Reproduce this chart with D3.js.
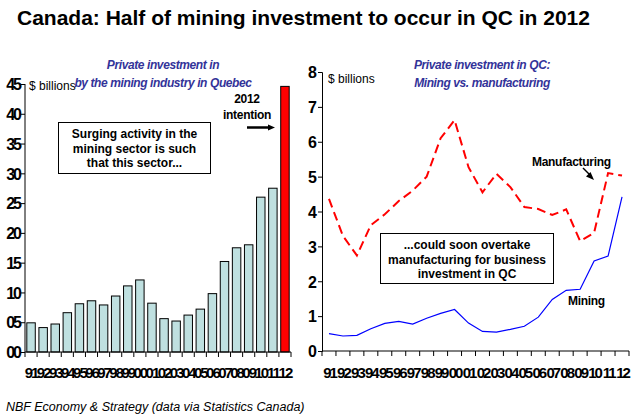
<!DOCTYPE html>
<html><head><meta charset="utf-8">
<script src="https://cdn.jsdelivr.net/npm/d3@7"></script>
<style>
html,body{margin:0;padding:0;background:#fff;}
svg{display:block;font-family:Arial,"Liberation Sans",sans-serif;}
</style></head>
<body>
<svg id="c" width="632" height="417"></svg>
<script>
// ---- data ----
const years = ["91","92","93","94","95","96","97","98","99","00","01","02","03","04","05","06","07","08","09","10","11","12"];
// left panel: private investment by the mining industry in Quebec (axis units as shown)
const miningBars = [4.9,4.1,4.7,6.6,8.1,8.6,7.9,9.4,11.1,12.1,8.2,5.6,5.2,6.2,7.2,9.8,15.2,17.5,18.0,26.0,27.5,44.6];
const leftTicks = [0,5,10,15,20,25,30,35,40,45];
const leftTickLabels = ["00","05","10","15","20","25","30","35","40","45"];
// right panel: $ billions
const miningQC = [0.50,0.43,0.45,0.64,0.79,0.85,0.77,0.94,1.08,1.19,0.80,0.56,0.54,0.62,0.71,0.97,1.48,1.74,1.77,2.58,2.72,4.42];
const manufQC = [4.36,3.3,2.74,3.61,3.92,4.3,4.6,5.0,6.1,6.62,5.27,4.55,5.08,4.7,4.13,4.07,3.9,4.06,3.15,3.39,5.1,5.03];
const rightTicks = [0,1,2,3,4,5,6,7,8];

const svg = d3.select("#c");
const navy = "#333399";

// titles
svg.append("text").attr("x",17).attr("y",25).attr("font-size","21px").attr("font-weight","bold").text("Canada: Half of mining investment to occur in QC in 2012");
const sub = [[163,69,"Private investment in"],[163,87,"by the mining industry in Quebec"],[482,69,"Private investment in QC:"],[482,87,"Mining vs. manufacturing"]];
sub.forEach(s=>svg.append("text").attr("x",s[0]).attr("y",s[1]).attr("text-anchor","middle")
  .attr("font-size","12px").attr("font-weight","bold").attr("font-style","italic").attr("letter-spacing","-0.4px").attr("fill",navy).text(s[2]));
svg.append("text").attr("x",6).attr("y",411).attr("font-size","12.5px").attr("font-style","italic").text("NBF Economy & Strategy (data via Statistics Canada)");

// ---- left panel ----
const xl = d3.scaleBand().domain(years).range([25,291]).paddingInner(0.3).paddingOuter(0.15);
const yl = d3.scaleLinear().domain([0,45]).range([352,84]);
const L = svg.append("g");
L.selectAll("rect.bar").data(years).join("rect")
  .attr("x",d=>xl(d)).attr("width",xl.bandwidth())
  .attr("y",(d,i)=>yl(miningBars[i])).attr("height",(d,i)=>yl(0)-yl(miningBars[i]))
  .attr("fill",(d,i)=>i===years.length-1?"#ff0000":"#bfe0e0").attr("stroke","#000").attr("stroke-width",1);
// y axis
const yAxL = L.append("g").attr("transform","translate(25,0)")
  .call(d3.axisLeft(yl).tickValues(leftTicks).tickFormat((d,i)=>leftTickLabels[i]).tickSize(4).tickPadding(1));
yAxL.select(".domain").attr("d",`M0,${yl(45)}V${yl(0)}`);
yAxL.selectAll("text").attr("font-size","16px").attr("font-weight","bold").attr("letter-spacing","-2px").attr("dy","0.36em");
// x axis
const xAxL = L.append("g").attr("transform",`translate(0,${yl(0)})`)
  .call(d3.axisBottom(xl).tickSize(0).tickPadding(15));
xAxL.select(".domain").attr("d","M25,0H291");
xAxL.selectAll("text").attr("font-size","15px").attr("font-weight","bold").attr("letter-spacing","-2px");
const stepL = (291-25)/years.length;
L.selectAll("line.bt").data(d3.range(years.length+1)).join("line")
  .attr("x1",i=>25+i*stepL).attr("x2",i=>25+i*stepL).attr("y1",yl(0)).attr("y2",yl(0)+5).attr("stroke","#000");
L.append("text").attr("x",29).attr("y",90).attr("font-size","12px").text("$ billions");
// annotation box
L.append("rect").attr("x",58.5).attr("y",122.5).attr("width",152).attr("height",51).attr("fill","#fff").attr("stroke","#000");
["Surging activity in the","mining sector is such","that this sector..."].forEach((t,i)=>
  L.append("text").attr("x",134.5).attr("y",138+i*14.5).attr("text-anchor","middle").attr("font-size","12px").attr("font-weight","bold").text(t));
L.append("text").attr("x",247).attr("y",103).attr("text-anchor","middle").attr("font-size","12px").attr("font-weight","bold").attr("letter-spacing","-0.3px").text("2012");
L.append("text").attr("x",247).attr("y",119).attr("text-anchor","middle").attr("font-size","12px").attr("font-weight","bold").attr("letter-spacing","-0.3px").text("intention");
L.append("line").attr("x1",247).attr("x2",270).attr("y1",127.5).attr("y2",127.5).attr("stroke","#000").attr("stroke-width",2.5);
L.append("path").attr("d","M268,124.5L275,127.5L268,130.5Z").attr("fill","#000");

// ---- right panel ----
const xr = d3.scalePoint().domain(years).range([322,629]).padding(0.5);
const yr = d3.scaleLinear().domain([0,8]).range([351,72]);
const R = svg.append("g");
const yAxR = R.append("g").attr("transform","translate(322,0)")
  .call(d3.axisLeft(yr).tickValues(rightTicks).tickSize(4).tickPadding(1));
yAxR.selectAll("text").attr("font-size","16px").attr("font-weight","bold").attr("dy","0.36em");
const xAxR = R.append("g").attr("transform",`translate(0,${yr(0)})`)
  .call(d3.axisBottom(xr).tickSize(0).tickPadding(16));
xAxR.select(".domain").attr("d","M322,0H629");
xAxR.selectAll("text").attr("font-size","15px").attr("font-weight","bold").attr("letter-spacing","-2px");
const stepR = (629-322)/years.length;
R.selectAll("line.bt").data(d3.range(years.length+1)).join("line")
  .attr("x1",i=>322+i*stepR).attr("x2",i=>322+i*stepR).attr("y1",yr(0)).attr("y2",yr(0)+5).attr("stroke","#000");
R.append("text").attr("x",328).attr("y",83).attr("font-size","12px").text("$ billions");
const line = d3.line().x((d,i)=>xr(years[i])).y(d=>yr(d));
R.append("path").datum(manufQC).attr("d",line).attr("fill","none").attr("stroke","#ff0000").attr("stroke-width",2).attr("stroke-dasharray","9,5");
R.append("path").datum(miningQC).attr("d",line).attr("fill","none").attr("stroke","#0000ff").attr("stroke-width",1.2);
R.append("rect").attr("x",380.5).attr("y",233.5).attr("width",173).attr("height",50).attr("fill","#fff").attr("stroke","#000");
["...could soon overtake","manufacturing for business","investment in QC"].forEach((t,i)=>
  R.append("text").attr("x",467).attr("y",249+i*14.5).attr("text-anchor","middle").attr("font-size","12px").attr("font-weight","bold").text(t));
R.append("text").attr("x",532).attr("y",166).attr("font-size","12px").attr("font-weight","bold").attr("letter-spacing","-0.3px").text("Manufacturing");
R.append("line").attr("x1",583).attr("y1",168).attr("x2",591).attr("y2",176).attr("stroke","#000").attr("stroke-width",1.5);
R.append("path").attr("d","M594,180L586,176.5L590.5,172Z").attr("fill","#000");
R.append("text").attr("x",568).attr("y",305).attr("font-size","12px").attr("font-weight","bold").attr("letter-spacing","-0.3px").text("Mining");
</script>
</body></html>
